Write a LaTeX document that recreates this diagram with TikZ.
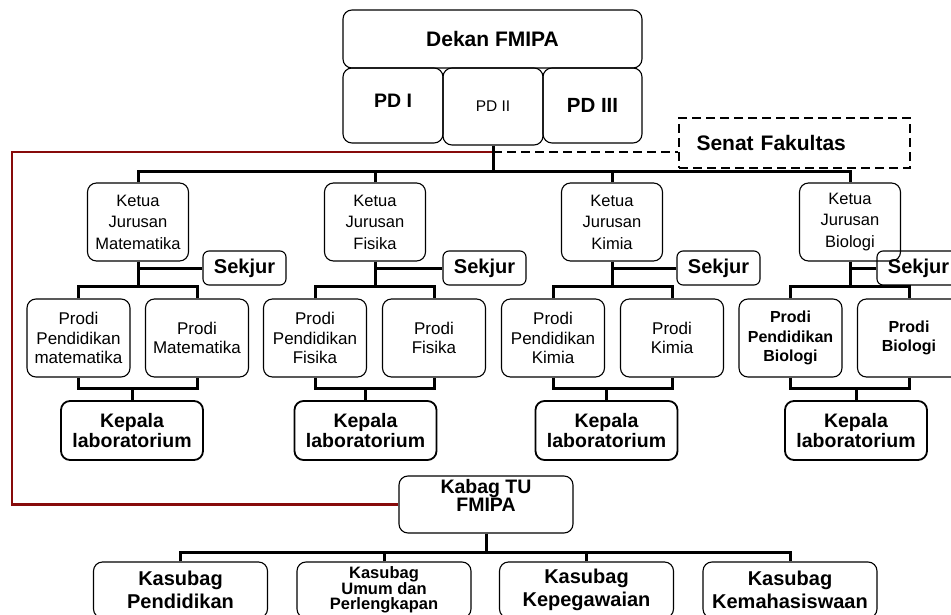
\documentclass[tikz,border=0pt]{standalone}
\usepackage{fontspec}
\setmainfont{Liberation Sans}
\definecolor{tured}{RGB}{135,10,10}
\tikzset{
  unit/.style={draw, rounded corners=9pt, align=center, line width=1.1pt, inner sep=1pt},
  ketua/.style={unit, minimum width=101pt, minimum height=78pt, font=\fontsize{16.5}{21.5}\selectfont},
  prodi/.style={unit, minimum width=103pt, minimum height=78pt, font=\fontsize{17}{19.5}\selectfont},
  sekjur/.style={unit, rounded corners=6pt, minimum width=83pt, minimum height=34pt, font=\fontsize{20}{22}\selectfont\bfseries},
  lab/.style={unit, line width=1.8pt, minimum width=142pt, minimum height=59pt, font=\fontsize{19.5}{20}\selectfont\bfseries},
  kasubag/.style={unit, minimum width=174pt, minimum height=56pt, font=\fontsize{20}{23}\selectfont\bfseries},
  link/.style={line width=3pt},
  redlink/.style={line width=2.5pt, color=tured},
  senatlink/.style={line width=2.4pt, dash pattern=on 9pt off 5pt}
}

\begin{document}
\begin{tikzpicture}[x=1pt, y=-1pt]
      \useasboundingbox (0,0) rectangle (951,615);
      % pimpinan fakultas
      \node[unit, minimum width=299pt, minimum height=58pt, font=\fontsize{21}{22}\selectfont\bfseries] (dekan) at (492.5,39) {Dekan FMIPA};
      \node[unit, minimum width=100pt, minimum height=75pt, text depth=10pt, font=\fontsize{19.5}{22}\selectfont\bfseries] (pd1) at (393,105.5) {PD I};
      \node[unit, minimum width=100pt, minimum height=77pt, font=\fontsize{15.5}{18}\selectfont] (pd2) at (493,106.5) {PD II};
      \node[unit, minimum width=99pt, minimum height=75pt, font=\fontsize{20.5}{22}\selectfont\bfseries] (pd3) at (592.5,105.5) {PD III};
      \node[draw, senatlink, minimum width=231pt, minimum height=50pt, text width=196pt, align=left, font=\fontsize{21}{22}\selectfont\bfseries] (senat) at (794.5,143) {Senat Fakultas};
      \coordinate (j0) at (493,152);
      \coordinate (redturn) at (12,152);
      \coordinate (topbus) at (493,172);

      % ketua jurusan
      \node[ketua] (ketuaM) at (138,222) {Ketua\\Jurusan\\Matematika};
      \node[ketua] (ketuaF) at (375,222) {Ketua\\Jurusan\\Fisika};
      \node[ketua] (ketuaK) at (612,222) {Ketua\\Jurusan\\Kimia};
      \node[ketua] (ketuaB) at (850,222) {Ketua\\Jurusan\\Biologi};

      \node[sekjur] (sekjurM) at (244.5,268) {Sekjur};
      \node[sekjur] (sekjurF) at (484.5,268) {Sekjur};
      \node[sekjur] (sekjurK) at (718.5,268) {Sekjur};
      \node[sekjur] (sekjurB) at (918.5,268) {Sekjur};

      % program studi
      \node[prodi] (pendM) at (78.5,338) {Prodi\\Pendidikan\\matematika};
      \node[prodi] (prodM) at (197,338) {Prodi\\Matematika};
      \node[prodi] (pendF) at (315,338) {Prodi\\Pendidikan\\Fisika};
      \node[prodi] (prodF) at (434,338) {Prodi\\Fisika};
      \node[prodi] (pendK) at (553,338) {Prodi\\Pendidikan\\Kimia};
      \node[prodi] (prodK) at (672,338) {Prodi\\Kimia};
      \node[prodi, font=\fontsize{16}{19.5}\selectfont\bfseries] (pendB) at (790.5,338) {Prodi\\Pendidikan\\Biologi};
      \node[prodi, font=\fontsize{16}{19.5}\selectfont\bfseries] (prodB) at (909,338) {Prodi\\Biologi};

      \coordinate (busM) at (138,286);
      \coordinate (busF) at (375,286);
      \coordinate (busK) at (612,286);
      \coordinate (busB) at (850,286);

      % laboratorium
      \node[lab] (labM) at (132,430.5) {Kepala\\laboratorium};
      \node[lab] (labF) at (365.5,430.5) {Kepala\\laboratorium};
      \node[lab] (labK) at (606.5,430.5) {Kepala\\laboratorium};
      \node[lab] (labB) at (856,430.5) {Kepala\\laboratorium};

      \coordinate (labbusM) at (132,388);
      \coordinate (labbusF) at (365.5,388);
      \coordinate (labbusK) at (606.5,388);
      \coordinate (labbusB) at (856,388);

      % tata usaha
      \node[unit, minimum width=174pt, minimum height=57pt, text depth=18pt, font=\fontsize{19.5}{14.5}\selectfont\bfseries] (kabag) at (486,504.5) {Kabag TU\\FMIPA};
      \node[kasubag] (kasPend) at (180.5,590) {Kasubag\\Pendidikan};
      \node[kasubag, font=\fontsize{16.5}{15.5}\selectfont\bfseries] (kasUmum) at (384,590) {Kasubag\\Umum dan\\Perlengkapan};
      \node[kasubag] (kasPeg) at (586.5,590) {Kasubag\\Kepegawaian};
      \node[kasubag] (kasMhs) at (790,590) {Kasubag\\Kemahasiswaan};
      \coordinate (tubus) at (486,552);

      % garis
      \draw[senatlink] (j0) -- (j0 -| senat.west);
      \draw[redlink] (j0) -- (redturn) |- (kabag.west);
      \draw[link] (pd2.south) -- (topbus);
      \draw[link] (ketuaM.north) |- (topbus) -| (ketuaB.north);
      \draw[link] (ketuaF.north) -- (ketuaF.north |- topbus);
      \draw[link] (ketuaK.north) -- (ketuaK.north |- topbus);

      \draw[link] (ketuaM.south) -- (busM);
      \draw[link] (ketuaF.south) -- (busF);
      \draw[link] (ketuaK.south) -- (busK);
      \draw[link] (ketuaB.south) -- (busB);
      \draw[link] (ketuaM.south |- sekjurM.west) -- (sekjurM.west);
      \draw[link] (ketuaF.south |- sekjurF.west) -- (sekjurF.west);
      \draw[link] (ketuaK.south |- sekjurK.west) -- (sekjurK.west);
      \draw[link] (ketuaB.south |- sekjurB.west) -- (sekjurB.west);

      \draw[link] (pendM.north) |- (busM) -| (prodM.north);
      \draw[link] (pendF.north) |- (busF) -| (prodF.north);
      \draw[link] (pendK.north) |- (busK) -| (prodK.north);
      \draw[link] (pendB.north) |- (busB) -| (prodB.north);

      \draw[link] (pendM.south) |- (labbusM) -| (prodM.south);
      \draw[link] (pendF.south) |- (labbusF) -| (prodF.south);
      \draw[link] (pendK.south) |- (labbusK) -| (prodK.south);
      \draw[link] (pendB.south) |- (labbusB) -| (prodB.south);
      \draw[link] (labbusM) -- (labM.north);
      \draw[link] (labbusF) -- (labF.north);
      \draw[link] (labbusK) -- (labK.north);
      \draw[link] (labbusB) -- (labB.north);

      \draw[link] (kabag.south) -- (tubus);
      \draw[link] (kasPend.north) |- (tubus) -| (kasMhs.north);
      \draw[link] (kasUmum.north) -- (kasUmum.north |- tubus);
      \draw[link] (kasPeg.north) -- (kasPeg.north |- tubus);
\end{tikzpicture}
\end{document}
